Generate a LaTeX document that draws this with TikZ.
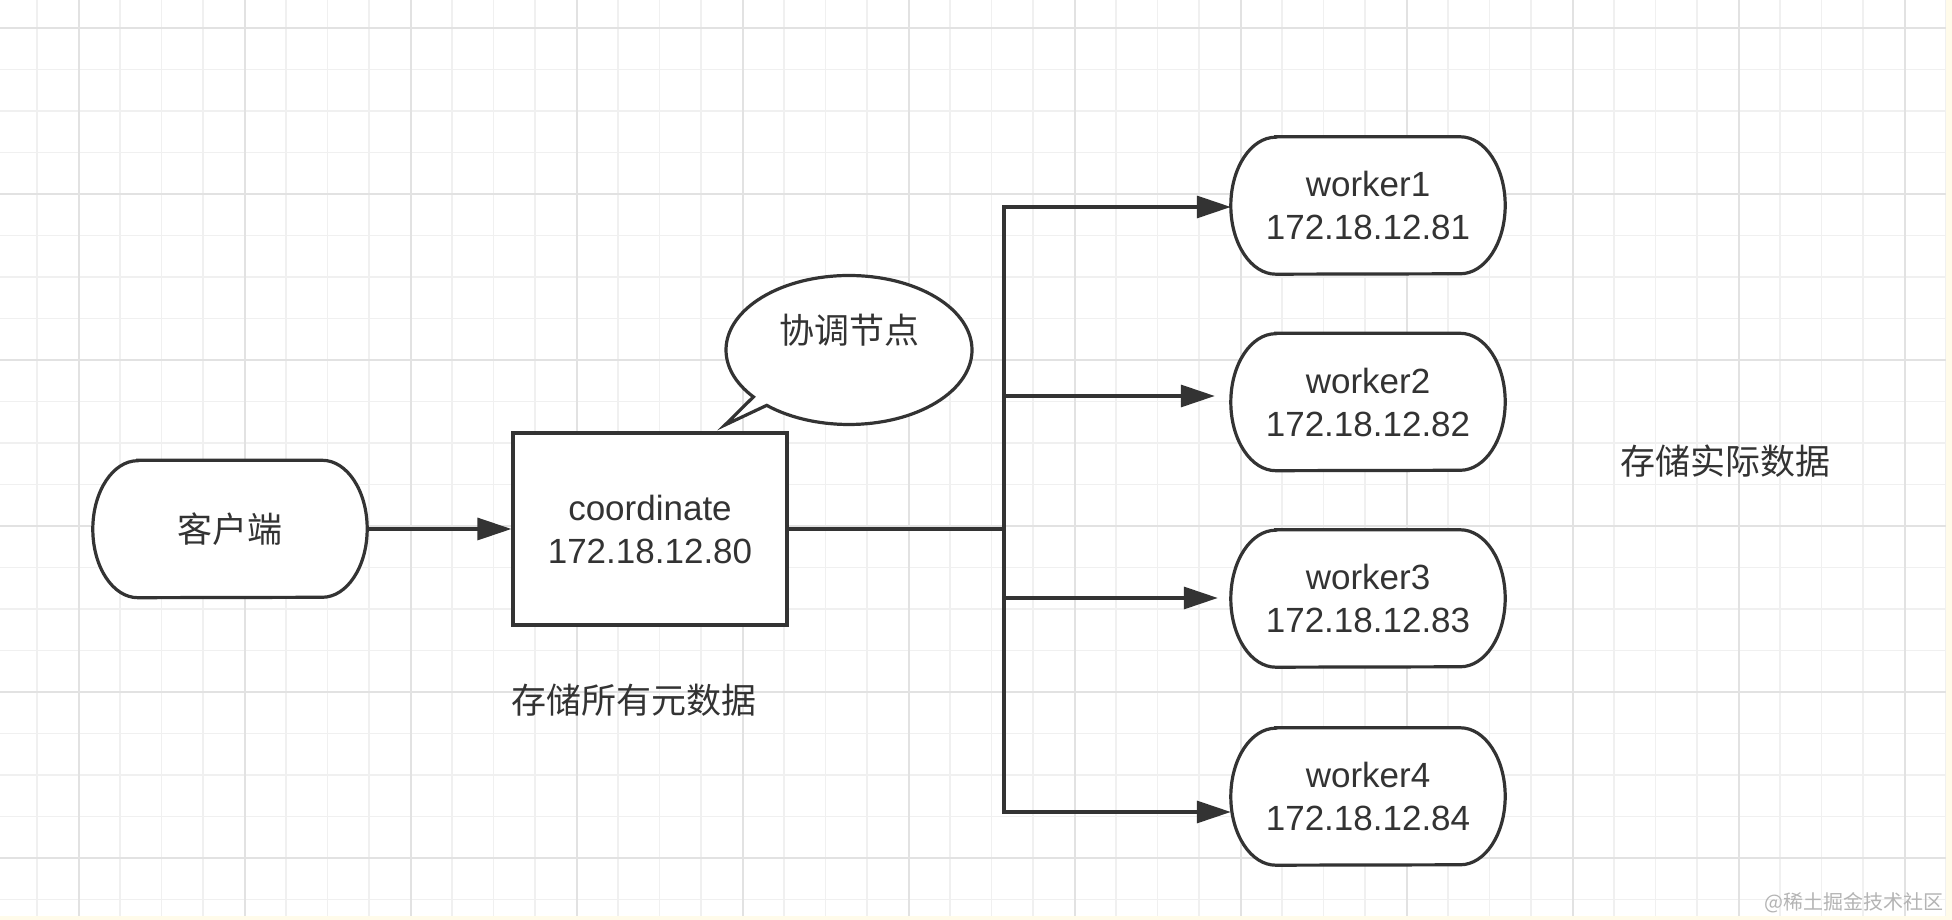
\documentclass[tikz,border=0pt]{standalone}
\usepackage{fontspec}
\setmainfont{Liberation Sans}
\newfontfamily\cjk{Noto Sans CJK SC}
\usetikzlibrary{arrows.meta,backgrounds}
\definecolor{ink}{HTML}{333333}
\definecolor{gmin}{HTML}{F0F0F0}
\definecolor{gmaj}{HTML}{E2E2E2}
\definecolor{stripc}{HTML}{FFFBEA}
\definecolor{wmc}{HTML}{B4B4B4}
\newcommand\pillshape[1]{%
  \draw[outline] ([xshift=45pt]#1.north west) -- ([xshift=-45pt]#1.north east)
    arc[start angle=90,end angle=-90,x radius=45pt,y radius=68.5pt]
    -- ([xshift=45pt]#1.south west)
    arc[start angle=270,end angle=90,x radius=45pt,y radius=68.5pt] -- cycle;}
\begin{document}
\begin{tikzpicture}[x=1pt,y=1pt,
  txt/.style={text=ink,font=\fontsize{35}{43}\selectfont,align=center,inner sep=0pt},
  cjktxt/.style={text=ink,font=\cjk\fontsize{35}{43}\selectfont,inner sep=0pt},
  pillarea/.style={draw=none,minimum width=274pt,minimum height=137pt,inner sep=0pt,
    text=ink,font=\fontsize{35}{43}\selectfont,align=center},
  outline/.style={draw=ink,line width=3.2pt,fill=white},
  conn/.style={draw=ink,line width=3.2pt},
  arr/.style={conn,-{Triangle[length=34pt,width=22pt]}},
  gminor/.style={draw=gmin,line width=1.5pt},
  gmajor/.style={draw=gmaj,line width=2pt},
]
\useasboundingbox (0,0) rectangle (1952,920);
\begin{scope}[on background layer]
  \fill[white] (0,0) rectangle (1952,920);
  \foreach \i in {0,...,46} \draw[gminor] ({37+41.5*\i},0) -- ++(0,920);
  \foreach \j in {0,...,21} \draw[gminor] (0,{892-41.5*\j}) -- ++(1952,0);
  \foreach \i in {0,...,11} \draw[gmajor] ({78.5+166*\i},0) -- ++(0,920);
  \foreach \j in {0,...,5} \draw[gmajor] (0,{892-166*\j}) -- ++(1952,0);
  \fill[stripc] (0,0) rectangle (1952,4);
  \fill[stripc] (1946,0) rectangle (1952,920);
\end{scope}

% nodes
\node[pillarea] (client) at (230,391) {\cjk 客户端};
\node[txt,draw=ink,fill=white,line width=3.2pt,minimum width=274pt,minimum height=192pt] (coord) at (650,391) {coordinate\\172.18.12.80};
\node[pillarea] (w1) at (1368,714.5) {worker1\\172.18.12.81};
\node[pillarea] (w2) at (1368,518) {worker2\\172.18.12.82};
\node[pillarea] (w3) at (1368,321.5) {worker3\\172.18.12.83};
\node[pillarea] (w4) at (1368,123.5) {worker4\\172.18.12.84};

\begin{scope}[on background layer]
  \pillshape{client}
  \pillshape{w1}
  \pillshape{w2}
  \pillshape{w3}
  \pillshape{w4}
\end{scope}

% speech bubble
\coordinate (bubc) at (849,570);
\coordinate (tip) at (725,495);
\draw[outline] (bubc) ++(228:123pt and 74.5pt)
  arc[start angle=228,end angle=579,x radius=123pt,y radius=74.5pt] -- (tip) -- cycle;
\node[cjktxt] (bub) at (849,590) {协调节点};

% connectors
\coordinate (b1) at (1004,713);
\coordinate (b2) at (1004,524);
\coordinate (b3) at (1004,322);
\coordinate (b4) at (1004,108);
\draw[arr] (client.east) -- (coord.west);
\draw[conn] (coord.east) -- (coord.east -| b1);
\draw[conn,line cap=rect] (b1) -- (b4);
\draw[arr] (b1) -- (b1 -| w1.west);
\draw[arr,shorten >=16pt] (b2) -- (b2 -| w2.west);
\draw[arr,shorten >=13pt] (b3) -- (b3 -| w3.west);
\draw[arr] (b4) -- (b4 -| w4.west);

% labels
\node[cjktxt] (meta) at (634,220) {存储所有元数据};
\node[cjktxt] (actual) at (1725,459) {存储实际数据};
\node[font=\cjk\fontsize{20}{20}\selectfont,text=wmc,anchor=east,inner sep=0pt] (wmark) at (1944,17) {@稀土掘金技术社区};
\end{tikzpicture}
\end{document}
